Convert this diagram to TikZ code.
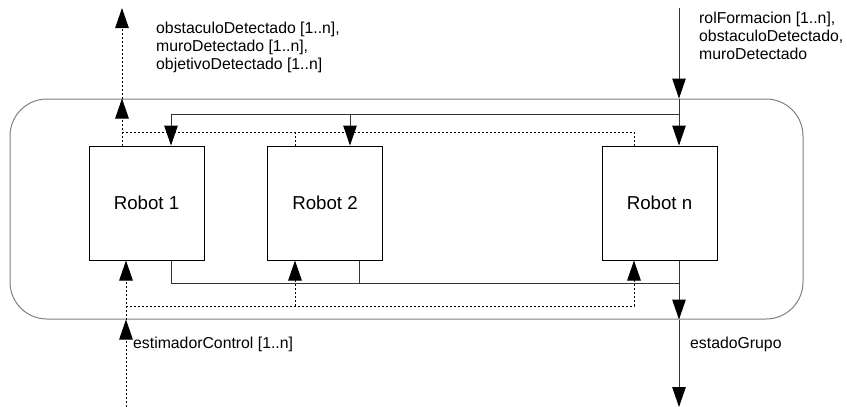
\documentclass[tikz,border=0pt]{standalone}
\usepackage{fontspec}
\setmainfont{Liberation Sans}
\usetikzlibrary{arrows.meta,positioning}

\tikzset{
  robot/.style={draw=black, line width=1pt, minimum width=115pt, minimum height=114pt, font=\fontsize{18.7}{22}\selectfont},
  linea/.style={draw=black!80, line width=1pt},
  punteada/.style={draw=black, line width=1pt, dash pattern=on 2pt off 2pt},
  flecha/.style={-{Triangle[length=20pt,width=13.5pt,color=black]}},
  rotulo/.style={font=\fontsize{15.8}{17.7}\selectfont, align=left, inner sep=0pt, anchor=north west},
}

\begin{document}
\begin{tikzpicture}[x=1pt,y=-1pt]
    \useasboundingbox (0,0) rectangle (847,407);

    % grupo de robots
    \node[draw=black!50, line width=1pt, rounded corners=37pt, minimum width=793pt, minimum height=220pt] (grupo) at (406.5,209) {};
    \node[robot] (r1) at (146.5,203) {Robot 1};
    \node[robot] (r2) at (325,203) {Robot 2};
    \node[robot] (rn) at (659.5,203) {Robot n};

    % puntos de conexion
    \coordinate (entrada) at (679,8);   \coordinate (salida) at (679,407);
    \coordinate (deteccion) at (122,8); \coordinate (estimador) at (126,407);
    \coordinate (r1e) at (171,0); \coordinate (r2e) at (350,0); \coordinate (r2s) at (359,0);
    \coordinate (r2p) at (295,0); \coordinate (rnp) at (634,0);
    \coordinate (busSup) at (0,114); \coordinate (busInf) at (0,283);
    \coordinate (punSup) at (0,132); \coordinate (punInf) at (0,306);

    % entradas y salidas continuas
    \draw[linea,flecha] (entrada) -- (entrada |- grupo.north);
    \draw[linea,flecha] (entrada |- grupo.north) -- (entrada |- rn.north);
    \draw[linea,flecha] (entrada |- busSup) -| (r1e |- r1.north);
    \draw[linea,flecha] (r2e |- busSup) -- (r2e |- r2.north);
    \draw[linea] (r1e |- r1.south) |- (entrada |- busInf);
    \draw[linea] (r2s |- r2.south) -- (r2s |- busInf);
    \draw[linea,flecha] (entrada |- rn.south) -- (entrada |- grupo.south);
    \draw[linea,flecha] (entrada |- grupo.south) -- (salida);

    % senales punteadas
    \draw[punteada,flecha] (deteccion |- r1.north) -- (deteccion |- grupo.north);
    \draw[punteada,flecha] (deteccion |- grupo.north) -- (deteccion);
    \draw[punteada] (deteccion |- punSup) -| (rnp |- rn.north);
    \draw[punteada] (r2p |- punSup) -- (r2p |- r2.north);
    \draw[punteada,flecha] (estimador) -- (estimador |- grupo.south);
    \draw[punteada,flecha] (estimador |- grupo.south) -- (estimador |- r1.south);
    \draw[punteada,flecha] (estimador |- punInf) -| (rnp |- rn.south);
    \draw[punteada,flecha] (r2p |- punInf) -- (r2p |- r2.south);

    % rotulos
    \node[rotulo] (lblDet) at (156,22) {obstaculoDetectado [1..n],\\ muroDetectado [1..n],\\ objetivoDetectado [1..n]};
    \node[rotulo] (lblEnt) at (699,12) {rolFormacion [1..n],\\ obstaculoDetectado,\\ muroDetectado};
    \node[rotulo] (lblEst) at (133,337) {estimadorControl [1..n]};
    \node[rotulo] (lblGru) at (690,337) {estadoGrupo};
\end{tikzpicture}
\end{document}
